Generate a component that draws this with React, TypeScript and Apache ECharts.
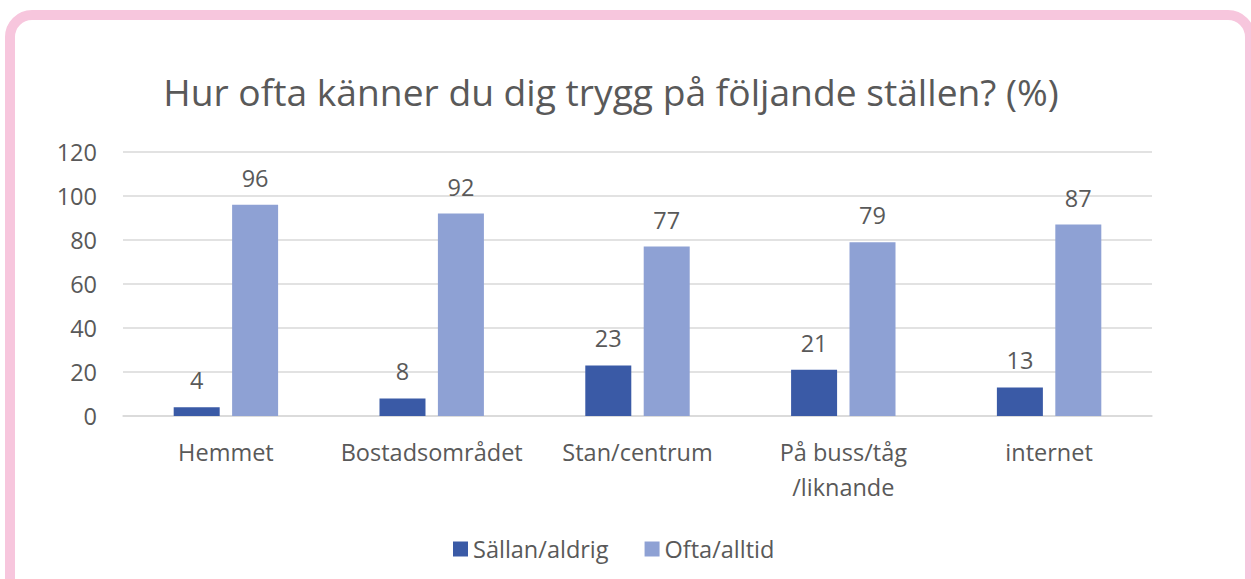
import React, { useEffect, useRef } from "react";
import * as echarts from "echarts";

const categories = ["Hemmet", "Bostadsområdet", "Stan/centrum", "På buss/tåg\n/liknande", "internet"];
const seriesNames = ["Sällan/aldrig", "Ofta/alltid"];
const sallanValues = [4, 8, 23, 21, 13];
const oftaValues = [96, 92, 77, 79, 87];
const titleText = "Hur ofta känner du dig trygg på följande ställen? (%)";

const FONT = "'Open Sans', 'Noto Sans', sans-serif";
const TEXT = "#595959";
const FS = 23.5;

export default function App() {
  const ref = useRef<HTMLDivElement>(null);
  useEffect(() => {
    if (!ref.current) return;
    const chart = echarts.init(ref.current, undefined, { renderer: "svg" });
    chart.setOption({
      animation: false,
      backgroundColor: "#ffffff",
      textStyle: { fontFamily: FONT },
      title: {
        text: titleText,
        left: 606,
        textAlign: "center",
        top: 68,
        textStyle: { fontFamily: FONT, fontSize: 37.2, fontWeight: "normal", color: TEXT },
      },
      legend: {
        data: seriesNames,
        left: 448,
        top: 532,
        itemWidth: 15,
        itemHeight: 15,
        itemGap: 36,
        icon: "rect",
        textStyle: { fontFamily: FONT, fontSize: FS, color: TEXT },
      },
      grid: { left: 123, right: 99, top: 152, bottom: 163, containLabel: false },
      xAxis: {
        type: "category",
        data: categories,
        axisLine: { lineStyle: { color: "#d9d9d9", width: 1.5 } },
        axisTick: { show: false },
        axisLabel: { fontFamily: FONT, fontSize: FS, color: TEXT, margin: 18, lineHeight: 35, interval: 0 },
      },
      yAxis: {
        type: "value",
        min: 0,
        max: 120,
        interval: 20,
        axisLine: { show: false },
        axisTick: { show: false },
        splitLine: { lineStyle: { color: "#d9d9d9", width: 1.5 } },
        axisLabel: { fontFamily: FONT, fontSize: FS, color: TEXT, margin: 26 },
      },
      series: [
        {
          name: seriesNames[0],
          type: "bar",
          data: sallanValues,
          barWidth: 46,
          barGap: "27%",
          itemStyle: { color: "#3a5aa6" },
          label: { show: true, position: "top", distance: 15, fontFamily: FONT, fontSize: FS, color: TEXT },
        },
        {
          name: seriesNames[1],
          type: "bar",
          data: oftaValues,
          barWidth: 46,
          barGap: "27%",
          itemStyle: { color: "#8ea1d4" },
          label: { show: true, position: "top", distance: 15, fontFamily: FONT, fontSize: FS, color: TEXT },
        },
      ],
      graphic: [
        {
          type: "rect",
          z: 100,
          silent: true,
          shape: { x: 10, y: 15, width: 1240, height: 620, r: 22 },
          style: { fill: "none", stroke: "#f7c6dd", lineWidth: 10 },
        },
      ],
    });
    return () => chart.dispose();
  }, []);
  return (
    <div
      ref={ref}
      style={{ position: "fixed", left: 0, top: 0, width: 1251, height: 579 }}
    />
  );
}
